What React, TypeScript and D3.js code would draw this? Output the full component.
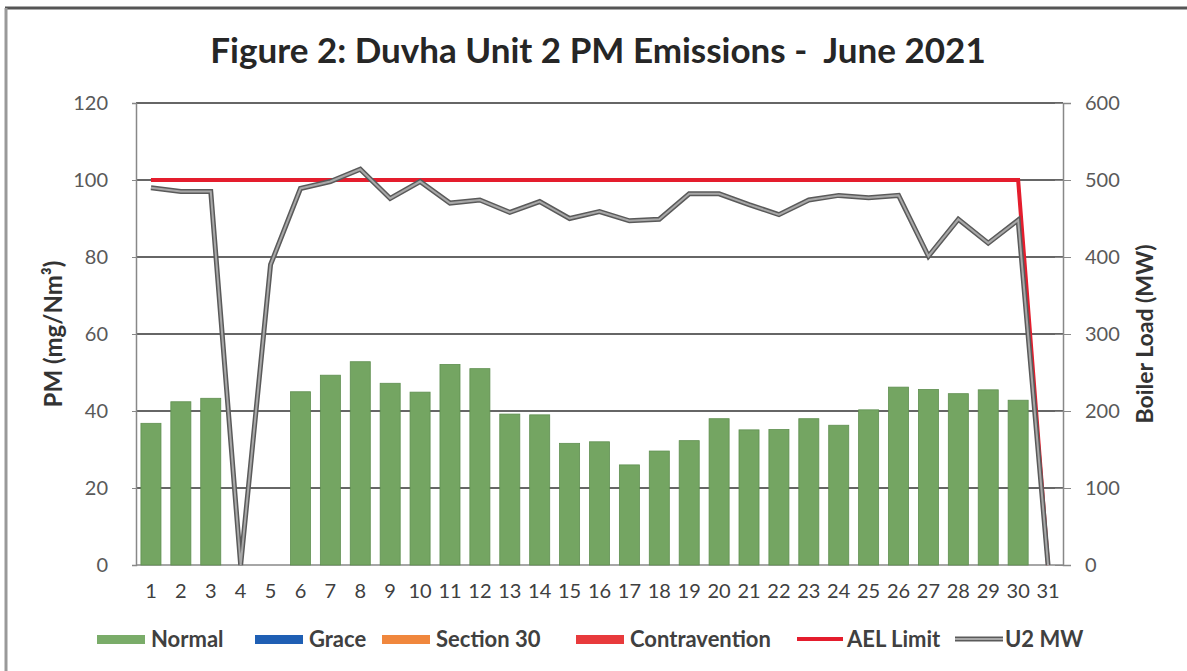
import React, { useEffect, useRef } from "react";
import * as d3 from "d3";

const days = d3.range(1, 32).map(String);
// PM (mg/Nm3), null = no bar
const normal = [
	36.8, 42.4, 43.3, null, null, 45, 49.3, 52.8, 47.2, 44.9, 52.1, 51, 39.2, 39, 31.6, 32, 26, 29.6, 32.3,
	38, 35.1, 35.2, 38, 36.3, 40.3, 46.2, 45.6, 44.5, 45.5, 42.8, null,
];
const aelLimit = [
	100, 100, 100, 100, 100, 100, 100, 100, 100, 100, 100, 100, 100, 100, 100, 100, 100, 100, 100, 100, 100,
	100, 100, 100, 100, 100, 100, 100, 100, 100, 0,
];
// boiler load (MW)
const u2MW = [
	490, 485, 485, 0, 390, 489, 498, 514, 476, 498, 470, 474, 458, 472, 450, 459, 447, 449, 482, 482, 468,
	455, 474, 480, 477, 480, 401, 449, 418, 448, 0,
];
const leftTicks = [0, 20, 40, 60, 80, 100, 120];
const rightTicks = [0, 100, 200, 300, 400, 500, 600];

const legendItems = [
	{ label: "Normal", color: "#7aac69", kind: "box" },
	{ label: "Grace", color: "#1f5fb4", kind: "box" },
	{ label: "Section 30", color: "#f0873d", kind: "box" },
	{ label: "Contravention", color: "#e83a3c", kind: "box" },
	{ label: "AEL Limit", color: "#e41d2d", kind: "line" },
	{ label: "U2 MW", color: "#9a9a9a", kind: "gline" },
];

const FONT = "Lato, 'Open Sans', sans-serif";

export default function App() {
	const ref = useRef<SVGSVGElement>(null);

	useEffect(() => {
		const svg = d3.select(ref.current);
		svg.selectAll("*").remove();

		const left = 136;
		const right = 1063;
		const top = 103;
		const bottom = 565;

		const x = d3.scaleBand().domain(days).range([left, right]).paddingInner(0.33).paddingOuter(0.165);
		const yL = d3.scaleLinear().domain([0, 120]).range([bottom, top]);
		const yR = d3.scaleLinear().domain([0, 600]).range([bottom, top]);
		const cx = (d: string) => (x(d) as number) + x.bandwidth() / 2;

		// frame
		svg.append("rect").attr("x", 0).attr("y", 0).attr("width", 1187).attr("height", 671).attr("fill", "#fff");
		svg.append("line").attr("x1", 5).attr("x2", 1187).attr("y1", 8).attr("y2", 8).attr("stroke", "#555").attr("stroke-width", 3);
		svg.append("line").attr("x1", 6).attr("x2", 6).attr("y1", 8).attr("y2", 671).attr("stroke", "#999").attr("stroke-width", 3);

		svg.append("text")
			.attr("x", 598)
			.attr("y", 63)
			.attr("text-anchor", "middle")
			.attr("font-family", FONT)
			.attr("font-weight", "bold")
			.attr("font-size", 35)
			.attr("fill", "#262626")
			.style("white-space", "pre")
			.text("Figure 2: Duvha Unit 2 PM Emissions -  June 2021");

		// gridlines
		svg.append("g")
			.selectAll("line")
			.data(leftTicks.filter((t) => t > 0))
			.join("line")
			.attr("x1", left)
			.attr("x2", right)
			.attr("y1", (d) => yL(d))
			.attr("y2", (d) => yL(d))
			.attr("stroke", "#333")
			.attr("stroke-width", 1.5);

		// left axis
		const gl = svg.append("g").attr("transform", `translate(${left},0)`).call(d3.axisLeft(yL).tickValues(leftTicks).tickSize(4).tickPadding(24));
		gl.select(".domain").attr("stroke", "#888").attr("stroke-width", 1.5);
		gl.selectAll(".tick line").attr("stroke", "#888");
		gl.selectAll("text").attr("font-family", FONT).attr("font-size", 20).attr("fill", "#595959");

		// right axis
		const gr = svg.append("g").attr("transform", `translate(${right},0)`).call(d3.axisRight(yR).tickValues(rightTicks).tickSize(8).tickPadding(14));
		gr.select(".domain").attr("stroke", "#888").attr("stroke-width", 1.5);
		gr.selectAll(".tick line").attr("stroke", "#888").attr("x1", -8);
		gr.selectAll("text").attr("font-family", FONT).attr("font-size", 20).attr("fill", "#595959");

		// bottom axis
		svg.append("line").attr("x1", left).attr("x2", right).attr("y1", bottom).attr("y2", bottom).attr("stroke", "#888").attr("stroke-width", 1.5);
		svg.append("g")
			.selectAll("text")
			.data(days)
			.join("text")
			.attr("x", (d) => cx(d))
			.attr("y", 598)
			.attr("text-anchor", "middle")
			.attr("font-family", FONT)
			.attr("font-size", 20)
			.attr("fill", "#404040")
			.text((d) => d);

		// axis titles
		svg.append("text")
			.attr("transform", `translate(62,${(top + bottom) / 2}) rotate(-90)`)
			.attr("text-anchor", "middle")
			.attr("font-family", FONT)
			.attr("font-weight", "bold")
			.attr("font-size", 24)
			.attr("fill", "#333")
			.text("PM (mg/Nm³)");
		svg.append("text")
			.attr("transform", `translate(1153,${(top + bottom) / 2}) rotate(-90)`)
			.attr("text-anchor", "middle")
			.attr("font-family", FONT)
			.attr("font-weight", "bold")
			.attr("font-size", 23)
			.attr("fill", "#333")
			.text("Boiler Load (MW)");

		// bars
		svg.append("g")
			.selectAll("rect")
			.data(days.map((d, i) => ({ d, v: normal[i] })).filter((e) => e.v != null))
			.join("rect")
			.attr("x", (e) => x(e.d) as number)
			.attr("y", (e) => yL(e.v as number))
			.attr("width", x.bandwidth())
			.attr("height", (e) => bottom - yL(e.v as number))
			.attr("fill", "#74a562")
			.attr("stroke", "#5f8f50")
			.attr("stroke-width", 0.8);

		// AEL limit
		const lineL = d3.line<number>().x((_, i) => cx(days[i])).y((v) => yL(v));
		svg.append("path").attr("d", lineL(aelLimit)).attr("fill", "none").attr("stroke", "#e41d2d").attr("stroke-width", 4);

		// U2 MW
		const lineR = d3.line<number>().x((_, i) => cx(days[i])).y((v) => yR(v));
		svg.append("path").attr("d", lineR(u2MW)).attr("fill", "none").attr("stroke", "#5a5a5a").attr("stroke-width", 5);
		svg.append("path").attr("d", lineR(u2MW)).attr("fill", "none").attr("stroke", "#a8a8a8").attr("stroke-width", 2);

		// legend
		const legendX = [97, 255, 382, 576, 797, 955];
		const lg = svg.append("g").selectAll("g").data(legendItems).join("g").attr("transform", (_, i) => `translate(${legendX[i]},639)`);
		lg.each(function (d) {
			const g = d3.select(this);
			if (d.kind === "box") {
				g.append("rect").attr("x", 0).attr("y", -4).attr("width", 48).attr("height", 9).attr("fill", d.color);
			} else if (d.kind === "line") {
				g.append("line").attr("x1", 0).attr("x2", 46).attr("y1", 0).attr("y2", 0).attr("stroke", d.color).attr("stroke-width", 4);
			} else {
				g.append("line").attr("x1", 0).attr("x2", 48).attr("y1", 0).attr("y2", 0).attr("stroke", "#5a5a5a").attr("stroke-width", 5);
				g.append("line").attr("x1", 0).attr("x2", 48).attr("y1", 0).attr("y2", 0).attr("stroke", "#a8a8a8").attr("stroke-width", 2);
			}
			g.append("text")
				.attr("x", d.kind === "box" ? 54 : 50)
				.attr("y", 8)
				.attr("font-family", FONT)
				.attr("font-weight", "bold")
				.attr("font-size", 22)
				.attr("fill", "#404040")
				.text(d.label);
		});
	}, []);

	return <svg ref={ref} width={1187} height={671} style={{ position: "absolute", left: 0, top: 0 }} />;
}
